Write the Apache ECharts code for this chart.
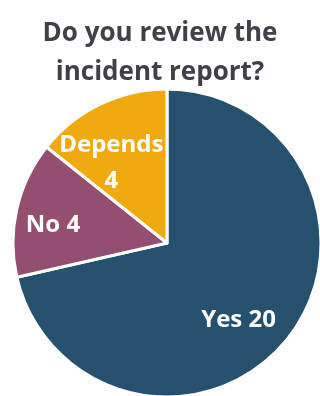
<!DOCTYPE html>
<html><head><meta charset="utf-8">
<script src="https://cdn.jsdelivr.net/npm/echarts@6/dist/echarts.min.js"></script>
<style>html,body{margin:0;padding:0;background:#fff}#c{width:320px;height:396px}</style>
</head><body><div id="c"></div>
<script>
const categories = ['Yes', 'No', 'Depends'];
const values = [20, 4, 4];
const colors = ['#25506e', '#944e70', '#f0aa0f'];
const labelOffsets = [[9, 27], [-36, 0], [-21, -8]];
const titleText = 'Do you review the\nincident report?';

const chart = echarts.init(document.getElementById('c'), null, {renderer: 'canvas'});
chart.setOption({
  animation: false,
  title: {
    text: titleText, left: 'center', top: 9,
    textStyle: {fontFamily: 'Open Sans', fontWeight: 'bold', fontSize: 26, color: '#404049', lineHeight: 39}
  },
  series: [{
    type: 'pie',
    center: [167, 243],
    radius: [0, 154],
    startAngle: 90,
    clockwise: true,
    itemStyle: {borderColor: '#fff', borderWidth: 3},
    label: {
      show: true, position: 'inside', color: '#fff',
      fontFamily: 'Open Sans', fontWeight: 'bold', fontSize: 24, lineHeight: 36,
      formatter: p => p.name === 'Depends' ? p.name + '\n' + p.value : p.name + ' ' + p.value
    },
    emphasis: {disabled: true},
    data: categories.map((c, i) => ({
      name: c, value: values[i],
      itemStyle: {color: colors[i]},
      label: {offset: labelOffsets[i]}
    }))
  }]
});
</script></body></html>
